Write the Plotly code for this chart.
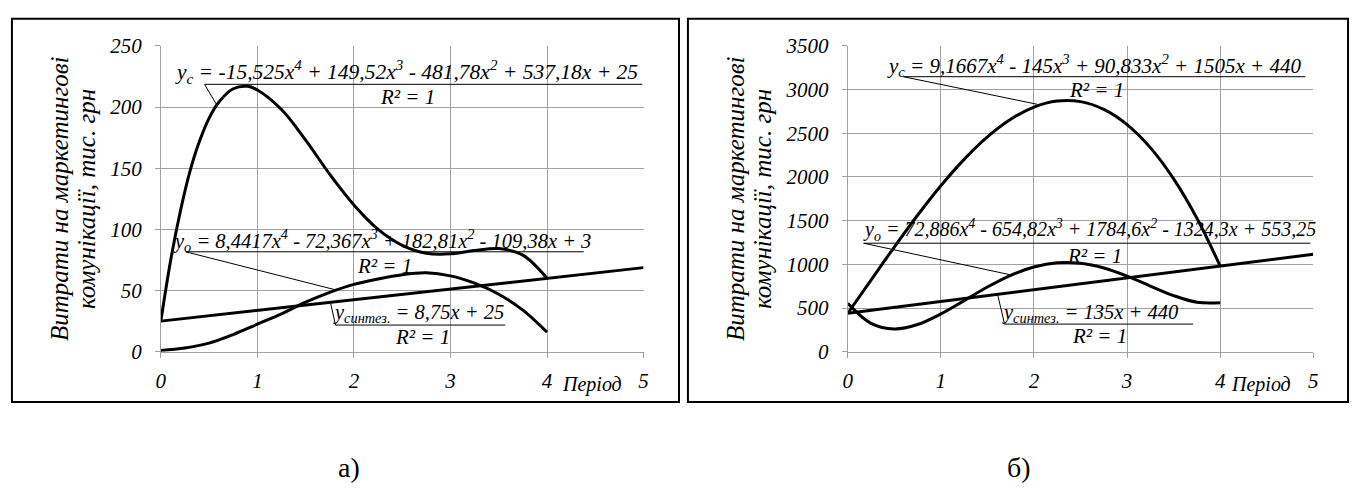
import plotly.graph_objects as go

W, H = 1357, 495

# ---------------- data ----------------
period_labels = ["0", "1", "2", "3", "4", "5"]

# panel a
a_yc_x = [0, 0.1, 0.2, 0.3, 0.4, 0.5, 0.6, 0.75, 0.9, 1, 1.25, 1.5, 1.75, 2, 2.25, 2.5, 2.75, 3, 3.25, 3.5, 3.75, 4]
a_yc_y = [25, 74, 114, 147, 172, 191, 204, 215, 217, 214, 198, 173, 145, 120, 100, 87, 80.5, 80, 82.7, 84.3, 79, 60]
a_yo_x = [0, 0.25, 0.5, 0.75, 1, 1.25, 1.5, 1.75, 2, 2.25, 2.5, 2.75, 3, 3.25, 3.5, 3.75, 4]
a_yo_y = [1, 3, 7, 14, 22.5, 31, 40.5, 48.5, 55, 59.5, 63, 64.5, 62, 56, 47, 34, 16]
a_ys_x = [0, 5]
a_ys_y = [25, 68.75]

# panel b
b_yc_x = [0, 0.25, 0.5, 0.75, 1, 1.25, 1.5, 1.75, 2, 2.25, 2.5, 2.75, 3, 3.25, 3.5, 3.75, 4]
b_yc_y = [440, 820, 1198, 1562, 1900, 2202, 2459, 2661, 2800, 2869, 2863, 2774, 2600, 2336, 1979, 1528, 980]
b_yo_x = [0, 0.25, 0.5, 0.75, 1, 1.25, 1.5, 1.75, 2, 2.25, 2.5, 2.75, 3, 3.25, 3.5, 3.75, 4]
b_yo_y = [553, 324, 260, 311, 432, 585, 741, 875, 969, 1017, 1012, 958, 865, 752, 642, 566, 560]
b_ys_x = [0, 5]
b_ys_y = [440, 1115]

# equation texts
a_eq_c = "y<sub>c</sub> = -15,525x<sup>4</sup> + 149,52x<sup>3</sup> - 481,78x<sup>2</sup> + 537,18x + 25"
a_eq_o = "y<sub>o</sub> = 8,4417x<sup>4</sup> - 72,367x<sup>3</sup> + 182,81x<sup>2</sup> - 109,38x + 3"
a_eq_s = "y<sub>синтез.</sub> = 8,75x + 25"
b_eq_c = "y<sub>c</sub> = 9,1667x<sup>4</sup> - 145x<sup>3</sup> + 90,833x<sup>2</sup> + 1505x + 440"
b_eq_o = "y<sub>o</sub> = 72,886x<sup>4</sup> - 654,82x<sup>3</sup> + 1784,6x<sup>2</sup> - 1324,3x + 553,25"
b_eq_s = "y<sub>синтез.</sub> = 135x + 440"
r2_text = "R² = 1"
y_title_lines = ["Витрати на маркетингові", "комунікації, тис. грн"]
x_title = "Період"
panel_labels = ["а)", "б)"]

# ---------------- helpers ----------------
def px(x):
    return x / W

def py(y):
    return 1 - y / H

FONT = "'Liberation Serif', 'Times New Roman', serif"
GRID = "#a0a0a0"
it = dict(family=FONT, size=21, color="black", style="italic")

fig = go.Figure()
line = dict(color="black", width=3, shape="spline", smoothing=1.0)
for xs, ys, xa, ya in [
    (a_yc_x, a_yc_y, "x", "y"), (a_yo_x, a_yo_y, "x", "y"), (a_ys_x, a_ys_y, "x", "y"),
    (b_yc_x, b_yc_y, "x2", "y2"), (b_yo_x, b_yo_y, "x2", "y2"), (b_ys_x, b_ys_y, "x2", "y2"),
]:
    fig.add_trace(go.Scatter(x=xs, y=ys, mode="lines", line=line, xaxis=xa, yaxis=ya,
                             showlegend=False, hoverinfo="skip"))

def xax(dom, anchor):
    return dict(domain=dom, range=[0, 5], tickvals=list(range(6)), ticktext=period_labels,
                showgrid=True, gridcolor=GRID, gridwidth=1, showline=True, linecolor=GRID,
                linewidth=1, ticks="outside", ticklen=5, tickcolor=GRID, zeroline=False,
                tickfont=it, anchor=anchor, ticklabelstandoff=5)

def yax(dom, top, step, anchor):
    return dict(domain=dom, range=[0, top], dtick=step, tick0=0,
                showgrid=True, gridcolor=GRID, gridwidth=1, showline=True, linecolor=GRID,
                linewidth=1, ticks="outside", ticklen=5, tickcolor=GRID, zeroline=False,
                tickfont=it, anchor=anchor, ticklabelstandoff=9)

ydom = [py(357), py(35.7)]
fig.update_layout(
    width=W, height=H, margin=dict(l=0, r=0, t=0, b=0),
    paper_bgcolor="white", plot_bgcolor="white",
    font=dict(family=FONT),
    xaxis=xax([px(157), px(643.3)], "y"),
    yaxis=yax(ydom, 250, 50, "x"),
    xaxis2=xax([px(849), px(1318)], "y2"),
    yaxis2=yax(ydom, 3500, 500, "x2"),
)

shapes = []
# outer boxes
for x0, x1 in [(7, 679), (688, 1353)]:
    shapes.append(dict(type="rect", xref="paper", yref="paper", x0=px(x0), x1=px(x1),
                       y0=py(410), y1=py(7), line=dict(color="black", width=2)))

def seg(x0, y0, x1, y1, w=1):
    shapes.append(dict(type="line", xref="paper", yref="paper", x0=px(x0), y0=py(y0),
                       x1=px(x1), y1=py(y1), line=dict(color="black", width=w)))

annots = []
def txt(x, y, t, size=20, xanchor="left", style="italic", angle=0):
    annots.append(dict(x=px(x), y=py(y), xref="paper", yref="paper", text=t, showarrow=False,
                       xanchor=xanchor, yanchor="middle", textangle=angle, borderpad=0,
                       font=dict(family=FONT, size=size, color="black", style=style)))

# ---- panel a labels ----
txt(170, 63, a_eq_c, size=21.5)
seg(201, 76, 642, 76)
seg(201, 76, 213, 97)
txt(405, 89, r2_text, size=21, xanchor="center")

txt(168, 240, a_eq_o, size=20.5)
seg(182, 252, 583, 252)
seg(182, 252, 333, 292)
txt(382, 267, r2_text, size=21, xanchor="center")

txt(329, 317, a_eq_s, size=20.5)
seg(328, 306, 333, 329)
seg(333, 329, 504, 329)
txt(421, 342, r2_text, size=21, xanchor="center")

# ---- panel b labels ----
txt(888, 56, b_eq_c, size=21)
seg(905, 68, 1310, 68)
seg(905, 68, 1040, 97)
txt(1100, 82, r2_text, size=21, xanchor="center")

txt(863, 229, b_eq_o, size=20)
seg(865, 243, 1315, 243)
seg(865, 243, 1012, 276)
txt(1098, 256, r2_text, size=21, xanchor="center")

txt(1003, 317, b_eq_s, size=20.5)
seg(1000, 297, 1007, 328)
seg(1007, 328, 1197, 328)
txt(1103, 341, r2_text, size=21, xanchor="center")

# axis titles (two rotated lines each)
for off in (0, 681):
    txt(55 + off, 196, y_title_lines[0], size=25, xanchor="center", angle=-90)
    txt(82 + off, 196, y_title_lines[1], size=25, xanchor="center", angle=-90)
txt(591, 392, x_title, size=20, xanchor="center")
txt(1265, 392, x_title, size=20, xanchor="center")

# panel captions
txt(347, 479, panel_labels[0], size=28, xanchor="center", style="normal")
txt(1022, 479, panel_labels[1], size=28, xanchor="center", style="normal")

fig.update_layout(shapes=shapes, annotations=annots)
fig.write_html("out.html", config={"displayModeBar": False},
               post_script="document.body.style.margin='0';")
